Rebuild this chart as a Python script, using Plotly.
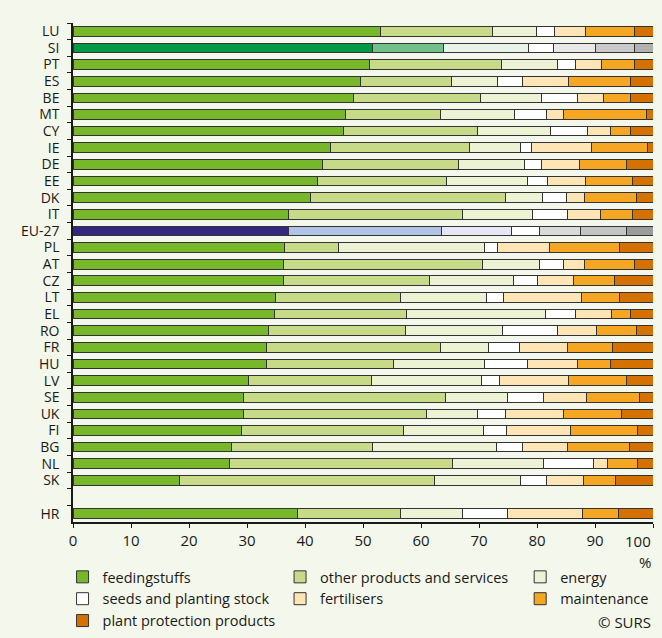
import plotly.graph_objects as go

# Structure of intermediate consumption, shares in %
countries = ["LU", "SI", "PT", "ES", "BE", "MT", "CY", "IE", "DE", "EE", "DK", "IT",
             "EU-27", "PL", "AT", "CZ", "LT", "EL", "RO", "FR", "HU", "LV", "SE",
             "UK", "FI", "BG", "NL", "SK", "HR"]

feedingstuffs = [53.1, 51.7, 51.2, 49.5, 48.3, 46.9, 46.6, 44.4, 43.1, 42.1, 41.0, 37.2,
                 37.1, 36.5, 36.3, 36.3, 34.9, 34.7, 33.7, 33.4, 33.4, 30.2, 29.4,
                 29.4, 29.1, 27.4, 27.0, 18.4, 38.7]
other_products = [19.3, 12.1, 22.7, 15.7, 22.0, 16.4, 23.2, 23.9, 23.3, 22.3, 33.6, 30.0,
                  26.4, 9.2, 34.3, 25.1, 21.6, 22.8, 23.6, 29.9, 21.8, 21.2, 34.8,
                  31.6, 27.9, 24.3, 38.5, 43.9, 17.8]
energy = [7.5, 14.7, 9.7, 8.0, 10.4, 12.8, 12.5, 8.8, 11.4, 14.0, 6.4, 12.0,
          12.1, 25.3, 9.9, 14.6, 14.8, 23.9, 16.8, 8.4, 15.8, 19.0, 10.7,
          8.8, 13.8, 21.3, 15.7, 14.8, 10.7]
seeds = [3.2, 4.3, 3.1, 4.3, 6.3, 5.6, 6.4, 1.9, 3.0, 3.4, 4.0, 6.0,
         4.9, 2.2, 4.1, 4.1, 2.9, 5.3, 9.4, 5.2, 7.4, 3.1, 6.2,
         4.8, 3.9, 4.5, 8.6, 4.5, 7.7]
fertilisers = [5.3, 7.2, 4.4, 8.0, 4.5, 2.9, 4.0, 10.4, 6.6, 6.6, 3.2, 5.8,
               7.0, 8.9, 3.6, 6.2, 13.5, 6.1, 6.8, 8.4, 8.5, 12.0, 7.5,
               9.9, 11.1, 7.7, 2.4, 6.5, 13.0]
maintenance = [8.4, 6.8, 5.7, 10.7, 4.7, 14.2, 3.5, 9.6, 8.0, 8.1, 8.9, 5.4,
               7.9, 12.1, 8.6, 7.1, 6.5, 3.4, 6.8, 7.7, 5.8, 9.9, 9.1,
               10.0, 11.6, 10.8, 5.2, 5.4, 6.1]
plant_protection = [3.2, 3.2, 3.2, 3.8, 3.8, 1.2, 3.8, 1.0, 4.6, 3.5, 2.9, 3.6,
                    4.6, 5.8, 3.2, 6.6, 5.8, 3.8, 2.9, 7.0, 7.3, 4.6, 2.3,
                    5.5, 2.6, 4.0, 2.6, 6.5, 6.0]

x_ticks = list(range(0, 101, 10))
# "100" sits left of its tick in the original, so it is drawn as an annotation
x_ticktext = [str(v) for v in x_ticks[:-1]] + [""]

# (name, values, normal colour, SI colour, EU-27 colour, legend)
series = [
    ("feedingstuffs", feedingstuffs, "#76b82a", "#009a44", "#32287f", "legend"),
    ("other products and services", other_products, "#c6da88", "#72c08a", "#b0c3e5", "legend2"),
    ("energy", energy, "#ecf2d3", "#e8f3ea", "#e6e6f5", "legend3"),
    ("seeds and planting stock", seeds, "#ffffff", "#ffffff", "#ffffff", "legend"),
    ("fertilisers", fertilisers, "#fee5b6", "#e8e8e8", "#d9d9d9", "legend2"),
    ("maintenance", maintenance, "#f5a623", "#cacaca", "#c4c4c4", "legend3"),
    ("plant protection products", plant_protection, "#d57100", "#b2b2b2", "#9b9b9b", "legend"),
]

GAP = " "  # empty slot between SK and HR
y_order = countries[:-1] + [GAP] + countries[-1:]


def with_gap(values):
    return values[:-1] + [None] + values[-1:]


fig = go.Figure()
for name, vals, col, col_si, col_eu, leg in series:
    colors = []
    for c in y_order:
        if c == "SI":
            colors.append(col_si)
        elif c == "EU-27":
            colors.append(col_eu)
        else:
            colors.append(col)
    fig.add_trace(
        go.Bar(
            x=with_gap(vals),
            y=y_order,
            name=name,
            orientation="h",
            legend=leg,
            marker=dict(color=colors, line=dict(color="#333333", width=1)),
        )
    )

BG = "#f4f7eb"
legend_style = dict(
    orientation="v",
    traceorder="normal",
    yanchor="top",
    xanchor="left",
    y=-0.078,
    bgcolor="rgba(0,0,0,0)",
    font=dict(size=14.5, color="#1a1a1a"),
    tracegroupgap=0,
)

fig.update_layout(
    barmode="stack",
    bargap=0.42,
    width=662,
    height=638,
    margin=dict(l=73, r=9, t=23, b=116, autoexpand=False),
    paper_bgcolor=BG,
    plot_bgcolor=BG,
    font=dict(family="Open Sans", size=15, color="#1a1a1a"),
    legend=dict(legend_style, x=-0.018),
    legend2=dict(legend_style, x=0.357),
    legend3=dict(legend_style, x=0.771),
    annotations=[
        dict(text=str(x_ticks[-1]), x=x_ticks[-1], y=-0.0387, xref="x", yref="paper",
             xanchor="right", yanchor="middle", showarrow=False,
             font=dict(size=15)),
        dict(text="%", x=1, y=-0.08, xref="paper", yref="paper",
             xanchor="right", yanchor="middle", showarrow=False,
             font=dict(size=15)),
        dict(text="© SURS", x=1, y=-0.201, xref="paper", yref="paper",
             xanchor="right", yanchor="middle", showarrow=False,
             font=dict(size=15)),
    ],
)

fig.update_xaxes(
    range=[0, 100],
    tickmode="array",
    tickvals=x_ticks,
    ticktext=x_ticktext,
    showgrid=False,
    zeroline=False,
    showline=True,
    linecolor="#1a1a1a",
    linewidth=1.5,
    ticks="outside",
    ticklen=4,
    tickcolor="#1a1a1a",
    tickfont=dict(size=15),
)
fig.update_yaxes(
    categoryorder="array",
    categoryarray=y_order,
    autorange="reversed",
    tickmode="linear",
    tick0=0,
    dtick=1,
    showgrid=False,
    zeroline=False,
    showline=True,
    linecolor="#1a1a1a",
    linewidth=1.5,
    ticks="outside",
    tickson="boundaries",
    ticklen=4,
    tickcolor="#1a1a1a",
    ticklabelstandoff=9,
    tickfont=dict(size=14),
)

# the page's default body margin would push the chart off the window
fig.write_html(
    "out.html",
    config={"displayModeBar": False},
    post_script="document.body.style.margin = '0';",
)
